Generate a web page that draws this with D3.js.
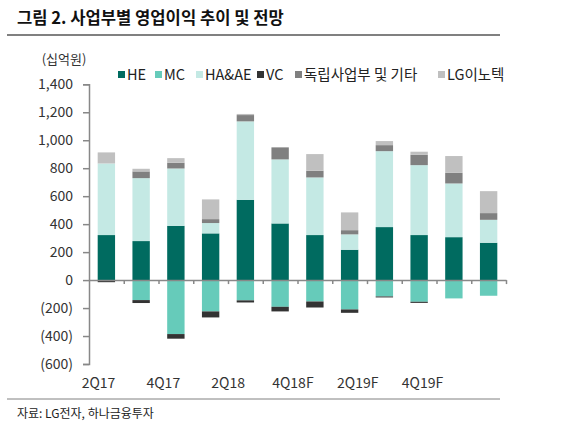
<!DOCTYPE html>
<html><head><meta charset="utf-8">
<script src="https://cdn.jsdelivr.net/npm/d3@7"></script>
<style>
body{margin:0;background:#fff;}
text{font-family:"Noto Sans CJK KR","Noto Sans",sans-serif;}
</style></head>
<body><svg id="c" width="562" height="433"></svg>
<script>
const categories = ["1Q17","2Q17","3Q17","4Q17","1Q18","2Q18","3Q18","4Q18F","1Q19F","2Q19F","3Q19F","4Q19F"];
const tickLabels = ["2Q17","4Q17","2Q18","4Q18F","2Q19F","4Q19F"];
const seriesNames = ["HE","MC","HA&AE","VC","독립사업부 및 기타","LG이노텍"];
const colors = ["#006B60","#66CBBA","#C4E9E4","#333333","#808080","#C0C0C0"];
const HE    = [322, 279, 388, 334, 574, 405, 322, 217, 379, 322, 307, 267];
const MC    = [0, -143, -386, -224, -145, -191, -153, -210, -117, -155, -131, -112];
const HAAE  = [512, 450, 410, 74, 561, 458, 412, 110, 543, 500, 384, 164];
const VC    = [-15, -21, -33, -43, -15, -33, -43, -24, -7, -8, 0, 0];
const OTHER = [0, 48, 41, 28, 45, 86, 48, 30, 43, 74, 76, 48];
const INNO  = [79, 19, 33, 141, 8, 0, 119, 127, 29, 22, 120, 157];
const yTicks = [-600,-400,-200,0,200,400,600,800,1000,1200,1400];

const svg = d3.select("#c");
const series = [HE, MC, HAAE, VC, OTHER, INNO];

const x = d3.scaleBand().domain(categories).range([89, 506]).paddingInner(0.5).paddingOuter(0.25);
const y = d3.scaleLinear().domain([-600, 1400]).range([364, 84.3]);
const xl = d3.scalePoint().domain(tickLabels).range([98, 422]);

// title
svg.append("text").attr("x", 17).attr("y", 24).attr("font-size", 16.6).attr("font-weight", "bold")
  .attr("fill", "#111").text("그림 2. 사업부별 영업이익 추이 및 전망");
svg.append("line").attr("x1", 7).attr("x2", 500).attr("y1", 35).attr("y2", 35).attr("stroke", "#808080").attr("stroke-width", 2);
svg.append("line").attr("x1", 7).attr("x2", 500).attr("y1", 399).attr("y2", 399).attr("stroke", "#808080").attr("stroke-width", 1);
svg.append("text").attr("x", 17).attr("y", 418).attr("font-size", 12).attr("fill", "#222").text("자료: LG전자, 하나금융투자");

// unit label
svg.append("text").attr("x", 64).attr("y", 64).attr("text-anchor", "middle").attr("font-size", 13).attr("fill", "#333").text("(십억원)");

// stacked bars (positive and negative stacks separately)
categories.forEach((c, i) => {
  let pos = 0, neg = 0;
  series.forEach((s, k) => {
    const v = s[i];
    if (v === 0) return;
    let y0, y1;
    if (v > 0) { y0 = pos; y1 = pos + v; pos = y1; }
    else { y0 = neg; y1 = neg + v; neg = y1; }
    svg.append("rect").attr("x", x(c)).attr("width", x.bandwidth())
      .attr("y", y(Math.max(y0, y1))).attr("height", Math.abs(y(y0) - y(y1)))
      .attr("fill", colors[k]);
  });
});

// y axis
const yAxis = d3.axisLeft(y).tickValues(yTicks).tickSize(6).tickPadding(10)
  .tickFormat(d => d < 0 ? "(" + d3.format(",")(-d) + ")" : d3.format(",")(d));
const gy = svg.append("g").attr("transform", "translate(89,0)").call(yAxis);
gy.select(".domain").attr("stroke", "#888").attr("stroke-width", 1.5);
gy.selectAll(".tick line").attr("stroke", "#888").attr("stroke-width", 1.5);
gy.selectAll(".tick text").attr("font-size", 14).attr("fill", "#333")
  .attr("font-family", "'Noto Sans CJK KR','Noto Sans',sans-serif");

// zero line with category ticks
const xTickPos = d3.range(categories.length + 1).map(i => 89 + i * (506 - 89) / categories.length);
const xs = d3.scaleLinear().domain([89, 506]).range([89, 506]);
const xAxis = d3.axisBottom(xs).tickValues(xTickPos.slice(1)).tickSize(4).tickFormat("").tickSizeOuter(0);
const gx = svg.append("g").attr("transform", `translate(0,${y(0)})`).call(xAxis);
gx.select(".domain").attr("stroke", "#888").attr("stroke-width", 1.5);
gx.selectAll(".tick line").attr("stroke", "#888").attr("stroke-width", 1.5);

// category labels
const gl = svg.append("g").attr("transform", "translate(0,383)").call(d3.axisBottom(xl).tickSize(0).tickPadding(0));
gl.select(".domain").remove();
gl.selectAll("text").attr("font-size", 14).attr("fill", "#333").attr("dy", "0.35em")
  .attr("font-family", "'Noto Sans CJK KR','Noto Sans',sans-serif");

// legend
const legX = [118, 155, 196, 257, 295, 438];
seriesNames.forEach((n, k) => {
  svg.append("rect").attr("x", legX[k]).attr("y", 71).attr("width", 7).attr("height", 7).attr("fill", colors[k]);
  svg.append("text").attr("x", legX[k] + 9).attr("y", 75).attr("dy", "0.35em").attr("font-size", 14.5).attr("fill", "#222").text(n);
});
</script></body></html>
